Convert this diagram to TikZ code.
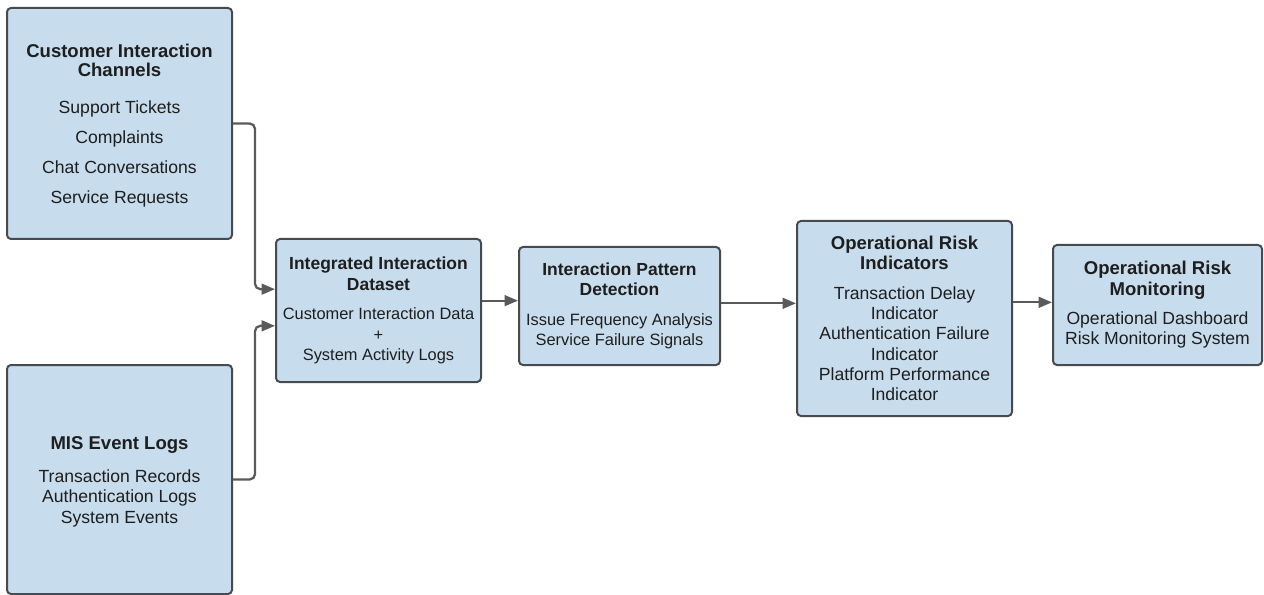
\documentclass[tikz,border=0pt]{standalone}
\usepackage{fontspec}
\setmainfont{Liberation Sans}
\usetikzlibrary{arrows.meta}
\definecolor{boxfill}{HTML}{C7DCEC}
\definecolor{boxline}{HTML}{474B4F}
\definecolor{arrcol}{HTML}{5A5A5A}
\definecolor{txt}{HTML}{1E1E1E}
\tikzset{
  box/.style={draw=boxline, fill=boxfill, line width=1.5pt, rounded corners=3pt,
    align=center, inner sep=0pt, text=txt, font=\fontsize{13.2}{15.2}\selectfont},
  smallbox/.style={box, font=\fontsize{12.3}{15.2}\selectfont},
  conn/.style={draw=arrcol, line width=1.7pt, rounded corners=4pt,
    -{Triangle[length=10pt,width=8pt]}},
}
\newcommand{\ttl}[1]{{\fontsize{13.9}{15.2}\selectfont\bfseries #1}}
\newcommand{\ttls}[1]{{\fontsize{13.1}{15.2}\selectfont\bfseries #1}}
\begin{document}
\begin{tikzpicture}[x=0.75pt,y=-0.75pt]
\useasboundingbox[fill=white] (0,0) rectangle (1264,595);
\node[box, minimum width=168.75pt, minimum height=173.25pt] (b1) at (119.5,123.5)
  {\rule{0pt}{7pt}\\[-9pt]\ttl{Customer Interaction}\\[-1pt]\ttl{Channels}\\[12.5pt]
   Support Tickets\\[7.3pt] Complaints\\[7.3pt] Chat Conversations\\[7.3pt] Service Requests};
\node[box, minimum width=168.75pt, minimum height=171.75pt] (b2) at (119.5,479.5)
  {\rule{0pt}{7pt}\\[-9pt]\ttl{MIS Event Logs}\\[9.5pt]
   Transaction Records\\[0.3pt] Authentication Logs\\[0.3pt] System Events};
\node[smallbox, minimum width=153.75pt, minimum height=107.25pt] (b3) at (378.5,310.5)
  {\ttls{Integrated Interaction}\\\ttls{Dataset}\\[7pt]
   Customer Interaction Data\\ +\\ System Activity Logs};
\node[smallbox, minimum width=150.75pt, minimum height=88.5pt] (b4) at (619.5,306)
  {\ttls{Interaction Pattern}\\\ttls{Detection}\\[7pt]
   Issue Frequency Analysis\\ Service Failure Signals};
\node[box, minimum width=161.25pt, minimum height=146.25pt] (b5) at (904.5,318.5)
  {\ttl{Operational Risk}\\\ttl{Indicators}\\[7pt]
   Transaction Delay\\ Indicator\\ Authentication Failure\\ Indicator\\ Platform Performance\\ Indicator};
\node[box, minimum width=156.75pt, minimum height=90pt] (b6) at (1157.5,305)
  {\ttl{Operational Risk}\\\ttl{Monitoring}\\[7pt]
   Operational Dashboard\\ Risk Monitoring System};
\draw[conn] (b1.east) -- ++(22,0) |- ([yshift=16pt]b3.west);
\draw[conn] (b2.east) -- ++(22,0) |- ([yshift=-11.5pt]b3.west);
\draw[conn] ([yshift=4pt]b3.east |- b4.west) -- ([yshift=4pt]b4.west);
\draw[conn] ([yshift=2pt]b4.east) -- ([yshift=2pt]b5.west |- b4.east);
\draw[conn] ([yshift=2pt]b5.east |- b6.west) -- ([yshift=2pt]b6.west);
\end{tikzpicture}
\end{document}
